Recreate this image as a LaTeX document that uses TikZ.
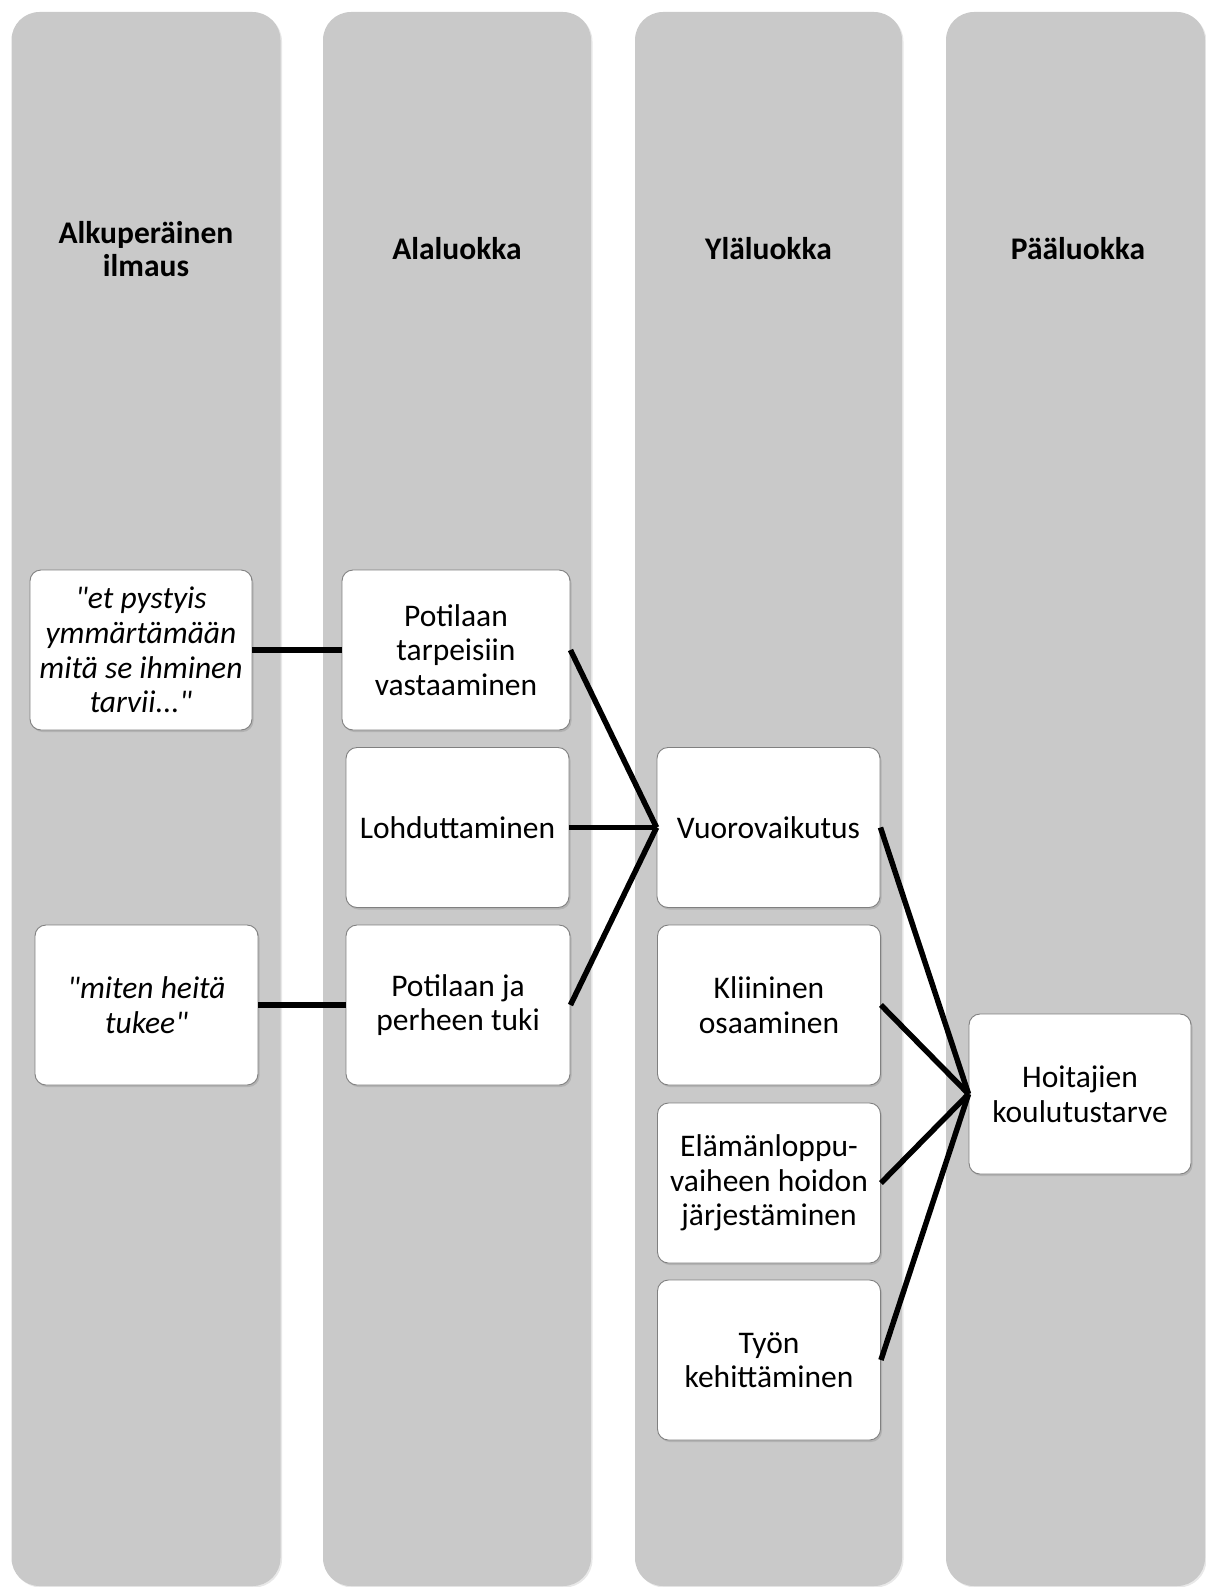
\documentclass[tikz,border=0pt]{standalone}
\usepackage{fontspec}
\setmainfont{Carlito}[Ligatures=TeXOff]
\usetikzlibrary{shadows}
\definecolor{colfill}{RGB}{201,201,201}
\definecolor{boxline}{RGB}{128,128,128}
\tikzset{
  colbox/.style={draw=none, fill=colfill, rounded corners=28pt, minimum width=#1, minimum height=1574pt, inner sep=0pt,
    drop shadow={shadow xshift=1.5pt, shadow yshift=-1.5pt, opacity=0.18}},
  header/.style={font=\fontsize{31.5}{33}\selectfont\bfseries, align=center, inner sep=0pt},
  catbox/.style={draw=boxline, line width=0.9pt, fill=white, rounded corners=11pt,
    minimum width=#1, minimum height=160pt, inner sep=0pt, align=center,
    font=\fontsize{31.5}{34.6}\selectfont,
    drop shadow={shadow xshift=1.5pt, shadow yshift=-2pt, opacity=0.3}},
  quotebox/.style={catbox=#1, font=\fontsize{31.5}{34.6}\selectfont\itshape},
  link/.style={line width=5.5pt, black}
}
\begin{document}
\begin{tikzpicture}[x=1pt, y=-1pt]
\useasboundingbox (0,0) rectangle (1206,1587);
% columns
\node[colbox=269pt] (c1) at (146,799) {};
\node[colbox=268pt] (c2) at (457,799) {};
\node[colbox=267pt] (c3) at (768.5,799) {};
\node[colbox=259pt] (c4) at (1075.5,799) {};
% headers
\node[header] (h1) at (146,249) {Alkuperäinen\\ilmaus};
\node[header] (h2) at (457,249) {Alaluokka};
\node[header] (h3) at (768.5,249) {Yläluokka};
\node[header] (h4) at (1078,249) {Pääluokka};
% column 1
\node[quotebox=222pt] (q1) at (141,650) {"et pystyis\\ymmärtämään\\mitä se ihminen\\tarvii..."};
\node[quotebox=223pt] (q2) at (146.5,1005) {"miten heitä\\tukee"};
% column 2
\node[catbox=228pt] (p1) at (456,650) {Potilaan\\tarpeisiin\\vastaaminen};
\node[catbox=223pt] (lo) at (457.5,827.5) {Lohduttaminen};
\node[catbox=224pt] (p2) at (458,1005) {Potilaan ja\\perheen tuki};
% column 3
\node[catbox=223pt] (vu) at (768.5,827.5) {Vuorovaikutus};
\node[catbox=223pt] (kl) at (769,1005) {Kliininen\\osaaminen};
\node[catbox=223pt] (el) at (769,1183) {Elämänloppu-\\vaiheen hoidon\\järjestäminen};
\node[catbox=223pt] (ty) at (769,1360) {Työn\\kehittäminen};
% column 4
\node[catbox=222pt] (ho) at (1080,1094) {Hoitajien\\koulutustarve};
% connectors
\draw[link] (q1.east) -- (p1.west);
\draw[link] (q2.east) -- (p2.west);
\draw[link] (p1.east) -- (vu.west);
\draw[link] (lo.east) -- (vu.west);
\draw[link] (p2.east) -- (vu.west);
\draw[link] (vu.east) -- (ho.west);
\draw[link] (kl.east) -- (ho.west);
\draw[link] (el.east) -- (ho.west);
\draw[link] (ty.east) -- (ho.west);
\end{tikzpicture}
\end{document}
